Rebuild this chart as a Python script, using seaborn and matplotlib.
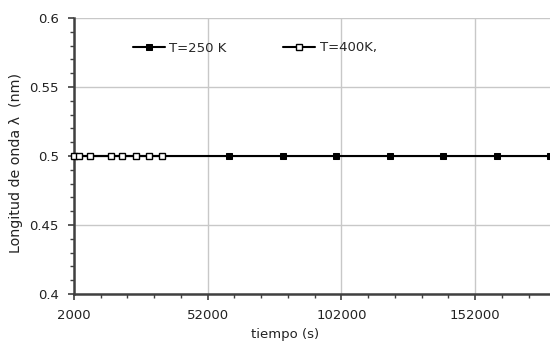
import matplotlib
matplotlib.use("Agg")
import matplotlib.pyplot as plt
import seaborn as sns
import pandas as pd
from matplotlib.ticker import MultipleLocator, FixedLocator

sns.set_theme(style="white")
plt.rcParams['font.family'] = ['DejaVu Sans']

t250 = [2000, 60000, 80000, 100000, 120000, 140000, 160000, 180000]
lam250 = [0.5, 0.5, 0.5, 0.5, 0.5, 0.5, 0.5, 0.5]
t400 = [2000, 4000, 8000, 16000, 20000, 25000, 30000, 35000]
lam400 = [0.5, 0.5, 0.5, 0.5, 0.5, 0.5, 0.5, 0.5]
labels = ["T=250 K", "T=400K,"]
xticks = [2000, 52000, 102000, 152000]
yticks = [0.4, 0.45, 0.5, 0.55, 0.6]

df250 = pd.DataFrame({"t": t250, "lam": lam250})
df400 = pd.DataFrame({"t": t400, "lam": lam400})

fig = plt.figure(figsize=(5.5, 3.43), dpi=100)
ax = fig.add_axes([74/550, 1-294/343, 1-74/550, (294-18)/343])

sns.lineplot(data=df250, x="t", y="lam", ax=ax, color="black", lw=1.5,
             marker="s", markersize=4.3, markerfacecolor="black",
             markeredgecolor="black", label=labels[0], zorder=3)
sns.lineplot(data=df400, x="t", y="lam", ax=ax, color="black", lw=1.5,
             marker="s", markersize=5, markerfacecolor="white",
             markeredgecolor="black", markeredgewidth=1.0, label=labels[1],
             clip_on=False, zorder=4)

ax.set_xlim(2000, 180000)
ax.set_ylim(0.4, 0.6)
ax.xaxis.set_major_locator(FixedLocator(xticks))
ax.xaxis.set_minor_locator(FixedLocator([2000 + 10000*k for k in range(18)]))
ax.yaxis.set_major_locator(FixedLocator(yticks))
ax.yaxis.set_minor_locator(MultipleLocator(0.01))
ax.set_xticklabels([str(v) for v in xticks])
ax.set_yticklabels(["0.4", "0.45", "0.5", "0.55", "0.6"])

ax.grid(True, which="major", color="#c8c8c8", lw=1.0)
ax.set_axisbelow(True)
for s in ["top", "right"]:
    ax.spines[s].set_visible(False)
for s in ["left", "bottom"]:
    ax.spines[s].set_color("#404040")
    ax.spines[s].set_linewidth(1.8)

ax.tick_params(axis="both", which="major", direction="out", length=4, width=1.2,
               color="#404040", labelsize=9.5, labelcolor="#222222")
ax.tick_params(axis="both", which="minor", direction="out", length=3, width=1.0,
               color="#404040")
ax.tick_params(axis="x", which="major", pad=7)
ax.tick_params(axis="y", which="major", pad=7)
ax.tick_params(axis="x", which="both", bottom=True)
ax.tick_params(axis="y", which="both", left=True)

ax.set_xlabel("tiempo (s)", fontsize=9.5, color="#222222")
ax.set_ylabel("Longitud de onda λ  (nm)", fontsize=10.3, color="#222222")
ax.xaxis.set_label_coords(0.443, -0.122)
ax.yaxis.set_label_coords(-0.108, 0.475)

leg = ax.legend(loc="center left", bbox_to_anchor=((133-74)/476, (294-48)/276),
                ncol=2, frameon=False, fontsize=9.5, handlelength=2.4,
                columnspacing=4.3, handletextpad=0.35, borderpad=0,
                borderaxespad=0)

fig.savefig("out.png", dpi=100)
